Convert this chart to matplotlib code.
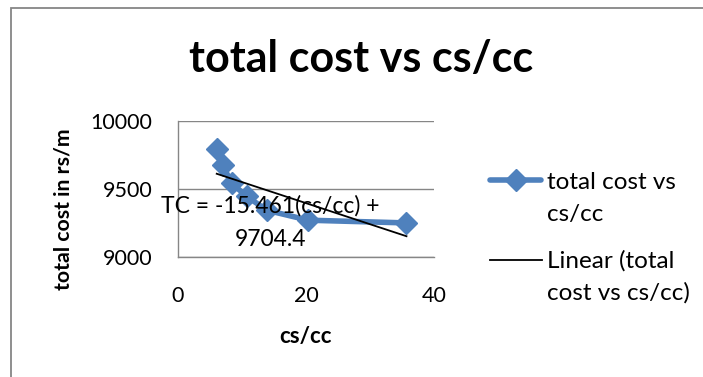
import matplotlib
matplotlib.use("Agg")
import matplotlib.pyplot as plt
from matplotlib.patches import Rectangle
from matplotlib.lines import Line2D
import numpy as np

# data
cs_cc = [6.05, 6.98, 8.39, 10.73, 13.86, 20.36, 35.7]
total_cost = [9790, 9674, 9540, 9446, 9343, 9270, 9250]
trend_slope = -15.461
trend_intercept = 9704.4
x_ticks = [0, 20, 40]
y_ticks = [9000, 9500, 10000]

W, H = 703, 377
blue = "#4F81BD"
grey = "#868686"
plt.rcParams["font.family"] = ["Lato", "DejaVu Sans"]


def fx(px):
    return px / W


def fy(py):
    return 1 - py / H


fig = plt.figure(figsize=(W / 100, H / 100), dpi=100)

# chart border (cut off on right and bottom)
fig.add_artist(Rectangle((fx(11), -0.1), 1.2, fy(8.5) + 0.1, transform=fig.transFigure,
                         facecolor="none", edgecolor=grey, lw=1.3))

ax = fig.add_axes([fx(178), fy(257), fx(434) - fx(178), (257 - 120.7) / H])
ax.set_xlim(0, 40)
ax.set_ylim(9000, 10000)
ax.set_xticks(x_ticks)
ax.set_yticks(y_ticks)
ax.grid(axis="y", color=grey, lw=1)
ax.set_axisbelow(True)
for s in ["top", "right"]:
    ax.spines[s].set_visible(False)
for s in ["left", "bottom"]:
    ax.spines[s].set_color(grey)
    ax.spines[s].set_linewidth(1)
ax.tick_params(length=0, labelsize=15.5, colors="black")
ax.tick_params(axis="y", pad=18.5)
ax.tick_params(axis="x", pad=21)

ax.plot(cs_cc, total_cost, color=blue, lw=4, marker="D", ms=11, mfc=blue, mec=blue,
        solid_capstyle="round", zorder=3)

xt = np.array([min(cs_cc), max(cs_cc)])
ax.plot(xt, trend_slope * xt + trend_intercept, color="black", lw=1.3, zorder=4)

ax.set_xlabel("cs/cc", fontsize=16, fontweight="bold", labelpad=14.5)
fig.text(fx(63), fy(209), "total cost in rs/m", rotation=90, ha="center", va="center",
         fontsize=15.3, fontweight="bold")

fig.text(fx(361.5), fy(72), "total cost vs cs/cc", ha="center", va="baseline",
         fontsize=31, fontweight="bold")

fig.text(fx(270), fy(246), "TC = -15.461(cs/cc) +\n9704.4", ha="center", va="baseline",
         fontsize=16.5, linespacing=1.75, multialignment="center", zorder=5)

# legend
fig.add_artist(Line2D([fx(490), fx(541)], [fy(180), fy(180)], color=blue, lw=4,
                      solid_capstyle="round", transform=fig.transFigure))
fig.add_artist(Line2D([fx(515.5)], [fy(180)], marker="D", ms=11, color=blue,
                      transform=fig.transFigure))
fig.text(fx(547), fy(221), "total cost vs\ncs/cc", ha="left", va="baseline",
         fontsize=17.5, linespacing=1.65)
fig.add_artist(Line2D([fx(490), fx(542)], [fy(260), fy(260)], color="black", lw=1.3,
                      transform=fig.transFigure))
fig.text(fx(547), fy(300), "Linear (total\ncost vs cs/cc)", ha="left", va="baseline",
         fontsize=17.5, linespacing=1.65)

fig.savefig("out.png", dpi=100)
